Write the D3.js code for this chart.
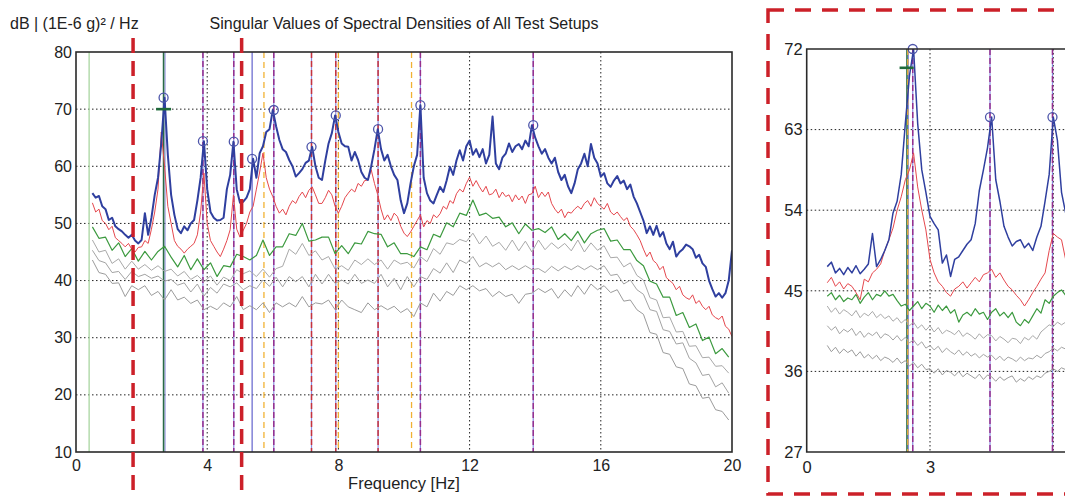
<!DOCTYPE html>
<html>
<head>
<meta charset="utf-8">
<script src="https://cdn.jsdelivr.net/npm/d3@7"></script>
<style>
  body { margin: 0; background: #fff; }
  svg { display: block; }
  text { font-family: "Liberation Sans", Arial, sans-serif; fill: #222; }
</style>
</head>
<body>
<svg id="chart" width="1065" height="496"></svg>
<script>
// ---- main chart: singular values, sampled from 0.5 Hz ----
const mainStart = 0.5;
const fineStep = 0.1;    // first two singular values
const coarseStep = 0.2;  // the lower ones

const sv1 = [
  55.3, 54.5, 54.8, 53, 52.5, 50.6, 51, 49.5, 49, 48.6,
  48, 47.5, 48, 47, 46.5, 47.1, 51.8, 48, 51, 55,
  58, 64, 72, 62, 55, 51.5, 49, 48.3, 49.5, 48.8,
  50, 50.6, 54, 58, 64.4, 56, 52, 51, 50.5, 50.6,
  51, 56, 58.5, 64.3, 56, 53.6, 53.8, 54.5, 56, 61.3,
  58, 62.3, 63.5, 66, 66.5, 69.85, 67, 64.6, 63, 62.5,
  61.1, 60, 58.2, 58.8, 59.5, 60.6, 61, 63.4, 60, 58,
  57.6, 61, 64, 65.8, 68.9, 66, 64, 63.5, 63.4, 61,
  62.5, 61.1, 59, 58, 57.6, 60, 63, 66.5, 63, 61,
  62, 60, 58.5, 57.6, 54, 51.8, 53.5, 57, 60, 62,
  70.7, 58, 55.3, 54, 53.5, 55, 56.4, 55.5, 57.5, 59.9,
  58.5, 61, 62.8, 61, 63.5, 64.5, 62, 63, 61.6, 63,
  60.5, 62, 68.7, 60.5, 59.5, 61.5, 62.2, 64, 62.5, 63.5,
  63.9, 63, 64.5, 63.5, 67.2, 65, 63.5, 62.2, 63, 61.5,
  60.5, 61.5, 59, 57.6, 58.5, 56.5, 55.3, 57, 59.5, 60.5,
  62.2, 60, 63.9, 61.5, 60.5, 58.2, 58.8, 57, 56.4, 57.5,
  58.3, 57, 57.5, 56, 56.8, 54.7, 53.5, 52, 50.5, 48.3,
  49.5, 48, 49.6, 47.7, 48.5, 46.5, 45.5, 46.8, 44.2, 45,
  45.5, 46.3, 46, 45.5, 44, 44.5, 43, 42.4, 40, 38.5,
  37.2, 37.8, 37, 37.8, 40, 45.3
];

const sv2 = [
  53.6, 52, 52.5, 50.5, 50, 48.9, 49.5, 47.5, 47, 46.5,
  45.9, 46.5, 45.5, 45, 45.8, 45.9, 47, 46.5, 49, 52,
  56, 66, 60, 53, 50, 47, 46, 45.5, 44.8, 45.5,
  46, 46.5, 48, 52, 58.8, 50, 47, 46, 45, 44.2,
  45.5, 47, 48.9, 55, 49, 47.6, 48.8, 50, 52, 53,
  56, 59, 62.3, 58, 56, 54.7, 53, 51.8, 52.5, 51.5,
  53, 54, 53.5, 54.7, 55.5, 54.5, 55.8, 56.4, 55, 53.5,
  53.5, 54.5, 55.8, 55, 53, 51.8, 53, 54.5, 55.3, 56,
  55.5, 57, 56.5, 57.5, 57.6, 59.4, 57, 55, 52.5, 50.6,
  51.5, 50.5, 51.8, 51.2, 49.5, 48.3, 47.7, 48.5, 49.5, 50.5,
  51.5, 49.4, 50.5, 50, 51.5, 51, 51.7, 53, 52.5, 54,
  53.5, 55.2, 56, 55.5, 57, 58.1, 56.5, 57.5, 56.4, 55.5,
  56.5, 55, 55.2, 56, 54.5, 55.5, 54.7, 55, 53.8, 55,
  54.1, 54.8, 53.5, 55, 55.2, 56.5, 54.5, 55.5, 54.7, 55.5,
  53.5, 52.5, 51.8, 52.5, 51, 52, 51.8, 52.5, 53, 52.5,
  53.5, 54, 53, 54.5, 53.5, 53, 52.5, 53.5, 52, 51.5,
  52, 51.2, 50.5, 51, 49.5, 48.9, 48, 47, 45.5, 44.2,
  45, 43.5, 43, 41.9, 42.5, 40.5, 40, 39.5, 38.4, 39,
  37.5, 37, 36.7, 37.5, 36, 36.5, 35.5, 34.9, 35.5, 34,
  33.5, 33.2, 33.8, 32, 31.5, 30.2
];

const sv3 = [
  49.4, 47.4, 47.6, 45.3, 46.6, 44.2, 45.6, 43.4, 45.1, 43.6,
  45.1, 46.0, 44.1, 42.4, 44.4, 41.9, 43.8, 41.9, 43.1, 40.7,
  42.6, 42.4, 44.6, 44.2, 43.6, 44.4, 47.1, 44.4, 45.9, 45.9,
  48.2, 47.9, 50.0, 46.9, 47.1, 47.6, 47.6, 44.7, 46.1, 44.7,
  46.6, 46.4, 48.6, 48.2, 48.1, 45.9, 46.6, 44.7, 44.7, 44.2,
  45.9, 45.4, 48.1, 47.6, 50.1, 49.4, 51.8, 51.4, 54.1, 51.4,
  51.8, 50.9, 51.1, 49.4, 50.1, 48.2, 49.9, 48.8, 49.1, 48.4,
  49.4, 47.2, 48.2, 47.0, 48.6, 46.6, 48.2, 48.8, 49.1, 46.9,
  47.1, 45.4, 45.4, 43.5, 42.6, 39.9, 39.4, 37.1, 37.1, 33.9,
  34.4, 31.8, 32.4, 29.5, 30.1, 27.2, 28.1, 26.6
];

const sv4 = [
  47.1, 45.0, 45.3, 43.0, 43.8, 42.0, 43.4, 42.0, 42.8, 41.8,
  42.6, 41.6, 42.0, 40.8, 41.6, 40.2, 40.9, 39.8, 40.8, 39.2,
  40.6, 40.0, 41.9, 41.2, 41.7, 40.7, 42.0, 40.6, 42.1, 42.5,
  45.5, 44.6, 46.5, 44.4, 45.2, 43.6, 44.2, 42.0, 42.6, 41.8,
  43.6, 42.8, 43.8, 42.8, 43.6, 42.0, 43.6, 42.9, 43.2, 42.2,
  44.2, 43.3, 45.6, 44.6, 46.6, 46.3, 47.2, 46.8, 48.3, 46.4,
  47.8, 46.0, 46.7, 45.3, 47.1, 45.2, 46.9, 45.0, 47.1, 45.4,
  46.6, 45.6, 46.5, 45.2, 47.1, 45.0, 46.6, 45.3, 46.1, 44.0,
  44.1, 42.4, 43.1, 40.9, 40.1, 37.0, 36.6, 33.5, 33.6, 31.0,
  31.1, 28.5, 28.6, 26.5, 26.6, 25.0, 25.1, 23.8
];

const sv5 = [
  45.3, 43.5, 43.1, 41.4, 41.6, 40.2, 41.6, 40.7, 41.1, 40.4,
  40.8, 39.9, 40.2, 39.2, 39.6, 38.0, 39.4, 37.3, 38.8, 37.8,
  39.4, 38.9, 39.6, 38.4, 39.1, 38.6, 40.1, 39.0, 40.6, 38.9,
  40.7, 39.8, 40.7, 38.9, 41.1, 39.4, 41.1, 39.5, 40.1, 39.4,
  41.1, 39.5, 40.1, 39.5, 41.1, 38.9, 40.4, 38.4, 40.7, 38.9,
  40.7, 40.2, 42.1, 41.3, 43.1, 41.4, 43.6, 43.0, 44.2, 42.4,
  43.1, 42.4, 43.1, 41.9, 42.6, 41.9, 42.6, 41.9, 42.1, 41.4,
  42.5, 41.7, 42.5, 41.9, 42.6, 41.9, 42.6, 41.9, 42.6, 40.9,
  41.1, 39.4, 40.1, 38.4, 37.6, 34.9, 34.6, 31.4, 31.1, 28.9,
  29.1, 26.4, 25.6, 23.4, 23.6, 21.4, 22.1, 20.3
];

const sv6 = [
  43.6, 41.4, 41.1, 39.5, 39.6, 37.2, 39.1, 38.4, 39.1, 37.4,
  38.1, 36.6, 38.4, 36.6, 37.1, 36.0, 36.6, 34.9, 35.5, 34.9,
  36.1, 35.4, 37.2, 34.9, 35.6, 34.9, 36.1, 34.4, 36.1, 35.4,
  36.1, 35.4, 37.2, 35.4, 36.1, 35.9, 36.6, 34.9, 36.6, 35.4,
  34.9, 34.4, 36.1, 34.9, 35.6, 34.9, 35.5, 34.4, 35.1, 33.7,
  36.1, 35.4, 37.8, 36.4, 38.1, 37.4, 39.1, 38.4, 39.1, 38.2,
  38.6, 37.2, 38.1, 37.2, 37.6, 36.0, 37.6, 37.8, 38.6, 37.9,
  38.6, 36.9, 38.4, 37.2, 39.1, 37.6, 39.4, 38.4, 39.1, 37.9,
  38.4, 36.4, 36.6, 34.9, 34.1, 30.9, 30.6, 27.4, 27.1, 24.9,
  24.6, 21.9, 21.6, 19.4, 19.6, 17.4, 17.1, 15.6
];

// picked modes: frequency [Hz], which setup marked it, peak level [dB]
const modeFreqs = [0.4, 2.67, 3.87, 4.81, 5.37, 5.73, 6.03, 7.18, 7.92, 8.0, 9.21, 10.23, 10.5, 13.94];
const modeKinds = ['base', 'green', 'purple', 'purple', 'blue', 'yellow', 'purple', 'red', 'red', 'yellow', 'red', 'yellow', 'purple', 'purple'];
const peakFreqs = [2.67, 3.87, 4.81, 5.37, 6.03, 7.18, 7.92, 9.21, 10.5, 13.94];
const peakLevels = [72, 64.4, 64.3, 61.3, 69.85, 63.4, 68.9, 66.5, 70.7, 67.2];
const crossFreq = 2.67, crossLevel = 70;
const markedBand = [1.74, 5.05];   // band highlighted by the thick red dashes

const mainYTicks = [10, 20, 30, 40, 50, 60, 70, 80];
const mainXTicks = [0, 4, 8, 12, 16, 20];

// ---- zoomed view (other setup), 0.1 Hz from 0.5 Hz ----
const insetStart = 0.5, insetStep = 0.1;
const in1 = [
  47.7, 48.2, 47, 47.5, 46.8, 47.6, 47, 47.8, 46.9, 47.4,
  48, 51.4, 47.7, 48.5, 49.5, 50.7, 53.7, 55, 58, 63.7,
  69, 72, 63.7, 58.5, 56, 53.3, 52.5, 51.8, 48.1, 49,
  46.6, 48.5, 48.8, 49.5, 50.2, 50.7, 52.5, 56.2, 58.5, 61,
  64.4, 57.4, 55, 52.2, 51, 50, 50.5, 50.7, 49.8, 50.3,
  49.5, 51, 52.2, 55, 58, 64.4, 61.8, 56, 53.7, 53
];
const in2 = [
  45.9, 46.5, 45.5, 46, 45.2, 45.8, 45.5, 44.8, 44, 46.3,
  46, 47, 47.4, 48, 49.5, 50.7, 52, 54, 55.5, 57.4,
  58.5, 60.4, 56.6, 54, 51.8, 48.5, 47, 46, 45.5, 44.8,
  44.4, 45.2, 45.5, 46, 45.3, 45.9, 46.5, 46, 46.8, 47,
  47.4, 46.5, 47, 46.2, 45.5, 45.1, 44.5, 44, 43.3, 44,
  44.8, 45.5, 46.3, 47, 49.5, 51.4, 51, 50.7, 48.5, 48
];
const in3 = [
  44.4, 44.8, 44, 44.5, 43.8, 44.2, 44, 44.6, 43.6, 44.3,
  44.8, 44, 44.6, 44.4, 45, 44.4, 44.6, 43.9, 43.3, 43.5,
  42.8, 43.3, 43.8, 43, 43.6, 43.3, 42.6, 43.4, 42.8, 43.3,
  42.5, 42.9, 41.5, 42.3, 42.6, 42.2, 43, 42.4, 42.6, 41.8,
  42.6, 43, 42.2, 42.6, 42, 42.6, 41.5, 41.1, 41.8, 41.4,
  42.2, 43, 42.5, 44, 43.6, 44.4, 44.8, 45.1, 44.5, 45
];
const in4 = [
  43.3, 42.6, 43.1, 42.4, 42.9, 42.6, 42.2, 42.8, 42, 42.5,
  42.2, 42.7, 42, 42.4, 41.9, 42.2, 41.6, 42, 41.4, 41.8,
  41.1, 41.5, 40.8, 41.2, 40.6, 41.1, 40.4, 40.9, 40.2, 40.6,
  40.4, 40.1, 40.6, 39.9, 40.3, 40, 39.6, 40.2, 39.7, 40.1,
  40, 39.4, 39.9, 39.6, 39.2, 39.7, 39.6, 39.1, 39.8, 39.5,
  40, 39.6, 40.4, 40.8, 41.2, 41, 41.5, 41.2, 41.5, 41.8
];
const in5 = [
  41.1, 40.6, 41, 40.2, 40.7, 40.4, 40.8, 40, 40.5, 39.8,
  40.3, 40, 40.4, 39.7, 40.2, 40, 39.5, 40, 39.4, 39.8,
  39.2, 39.5, 38.9, 39.3, 38.6, 38.9, 38.4, 38.8, 38.1, 38.6,
  38.2, 37.9, 38.4, 37.8, 38.2, 37.7, 38, 37.5, 37.9, 37.6,
  37.8, 37.3, 37.7, 37.2, 37.6, 37.4, 37.1, 37.6, 37.2, 37.5,
  37.4, 37.8, 37.5, 38, 38.2, 38.6, 38.3, 38.7, 38.5, 38.8
];
const in6 = [
  38.9, 38.2, 38.7, 38, 38.5, 38.1, 38.4, 37.7, 38.2, 37.5,
  37.9, 37.4, 37.8, 37.2, 37.6, 37.4, 37, 37.5, 36.9, 37.2,
  36.6, 37, 36.4, 36.8, 36.2, 36.3, 35.8, 36.3, 35.6, 36.1,
  35.9, 35.5, 36, 35.4, 35.8, 35.5, 35.2, 35.7, 35.1, 35.6,
  35.4, 34.9, 35.4, 35, 35.3, 35.5, 34.8, 35.2, 34.9, 35.4,
  35.1, 35.5, 35.3, 35.8, 36, 36.3, 36, 36.4, 36.2, 36.5
];
const insetModeFreqs = [2.44, 2.46, 2.58, 4.46, 5.98];
const insetModeKinds = ['green', 'yellow', 'purple', 'purple', 'purple'];
const insetPeakFreqs = [2.58, 4.46, 5.98];
const insetPeakLevels = [72, 64.4, 64.4];
const insetCrossFreq = 2.43, insetCrossLevel = 69.9;
const insetYTicks = [27, 36, 45, 54, 63, 72];
const insetXTicks = [0, 3];

// ---- drawing ----
const svg = d3.select('#chart');
svg.append('rect').attr('width', 1065).attr('height', 496).attr('fill', '#fff');

const W = { l: 76, r: 732, t: 52, b: 452 };
const xMain = d3.scaleLinear().domain([0, 20]).range([W.l, W.r]);
const yMain = d3.scaleLinear().domain([10, 80]).range([W.b, W.t]);

const I = { l: 806.7, t: 49, b: 452 };
const xIn = d3.scaleLinear().domain([0, 6.5]).range([I.l, I.l + 6.5 * 41.1]);
const yIn = d3.scaleLinear().domain([27, 72]).range([I.b, I.t]);

const defs = svg.append('defs');
defs.append('clipPath').attr('id', 'clipMain').append('rect')
  .attr('x', W.l).attr('y', W.t).attr('width', W.r - W.l).attr('height', W.b - W.t);
defs.append('clipPath').attr('id', 'clipIn').append('rect')
  .attr('x', I.l).attr('y', I.t).attr('width', 1065 - I.l).attr('height', I.b - I.t);

const curveStyles = [
  { color: '#9b9b9b', width: 1 },
  { color: '#a3a3a3', width: 1 },
  { color: '#a9a9a9', width: 1 },
  { color: '#3c9a3f', width: 1.2 },
  { color: '#e5474d', width: 1 },
  { color: '#2f3f9f', width: 2 }
];

function lineStyles(kind) {
  // each mode line = thin lavender base + coloured marker line on top
  if (kind === 'base') return [{ c: '#a9d6a0', w: 1.3 }];
  if (kind === 'yellow') return [{ c: '#f1b233', w: 1.3, dash: '6,4' }];
  if (kind === 'blue') return [{ c: '#6e6ed0', w: 1.3 }];
  if (kind === 'green') return [{ c: '#8c8ce0', w: 1, dx: 1.5 }, { c: '#2a6a45', w: 1.6 }];
  if (kind === 'red') return [{ c: '#8c8ce0', w: 1.2 }, { c: '#c6323d', w: 1.5, dash: '6,3' }];
  return [{ c: '#8c8ce0', w: 1.2 }, { c: '#962f8e', w: 1.5, dash: '6,3' }];
}

function drawPanel(g, x, y, box, series, step, start, modes, kinds, peaksF, peaksV, cross, crossW, clipId, blueW) {
  const plot = g.append('g').attr('clip-path', `url(#${clipId})`);

  // dotted grid
  plot.append('g').selectAll('line').data(box.gridY).join('line')
    .attr('x1', box.l).attr('x2', box.r).attr('y1', d => y(d)).attr('y2', d => y(d))
    .attr('stroke', '#222').attr('stroke-width', 1).attr('stroke-dasharray', '1.5,2.5');
  plot.append('g').selectAll('line').data(box.gridX).join('line')
    .attr('x1', d => x(d)).attr('x2', d => x(d)).attr('y1', box.t).attr('y2', box.b)
    .attr('stroke', '#222').attr('stroke-width', 1).attr('stroke-dasharray', '1.5,2.5');

  // picked-mode lines
  modes.forEach((f, i) => {
    lineStyles(kinds[i]).forEach(s => {
      plot.append('line')
        .attr('x1', x(f) + (s.dx || 0)).attr('x2', x(f) + (s.dx || 0))
        .attr('y1', box.t).attr('y2', box.b)
        .attr('stroke', s.c).attr('stroke-width', s.w)
        .attr('stroke-dasharray', s.dash || null);
    });
  });

  // singular value curves, lowest first
  const line = d3.line().x(d => x(d.f)).y(d => y(d.v));
  series.forEach((vals, k) => {
    const st = step[k];
    const pts = vals.map((v, i) => ({ f: start + i * st, v: v }));
    const cs = curveStyles[k];
    plot.append('path')
      .attr('d', line(pts))
      .attr('fill', 'none')
      .attr('stroke', cs.color)
      .attr('stroke-width', k === series.length - 1 ? blueW : cs.width)
      .attr('stroke-linejoin', 'round');
  });

  // peak circles
  g.append('g').selectAll('circle').data(peaksF).join('circle')
    .attr('cx', d => x(d)).attr('cy', (d, i) => y(peaksV[i]))
    .attr('r', 4.5).attr('fill', 'none')
    .attr('stroke', '#4d55aa').attr('stroke-width', 1.3);

  // cross marker
  g.append('line')
    .attr('x1', x(cross[0]) - crossW / 2).attr('x2', x(cross[0]) + crossW / 2)
    .attr('y1', y(cross[1])).attr('y2', y(cross[1]))
    .attr('stroke', '#1f6a3a').attr('stroke-width', 2.6);
}

function styleAxis(a, size, color) {
  a.select('.domain').remove();
  a.selectAll('text').attr('font-size', size)
    .attr('font-family', '"Liberation Sans", Arial, sans-serif').attr('fill', color);
}

// main panel
const gMain = svg.append('g');
drawPanel(gMain, xMain, yMain,
  { l: W.l, r: W.r, t: W.t, b: W.b, gridY: [20, 30, 40, 50, 60, 70], gridX: [4, 8, 12, 16] },
  [sv6, sv5, sv4, sv3, sv2, sv1],
  [coarseStep, coarseStep, coarseStep, coarseStep, fineStep, fineStep], mainStart,
  modeFreqs, modeKinds, peakFreqs, peakLevels, [crossFreq, crossLevel], 15, 'clipMain', 2);

gMain.append('rect')
  .attr('x', W.l).attr('y', W.t).attr('width', W.r - W.l).attr('height', W.b - W.t)
  .attr('fill', 'none').attr('stroke', '#2a2a2a').attr('stroke-width', 1.6);

styleAxis(gMain.append('g').attr('transform', `translate(${W.l},0)`)
  .call(d3.axisLeft(yMain).tickValues(mainYTicks).tickSize(0).tickPadding(4)), 16, '#222');
styleAxis(gMain.append('g').attr('transform', `translate(0,${W.b})`)
  .call(d3.axisBottom(xMain).tickValues(mainXTicks).tickSize(0).tickPadding(8)), 16, '#222');

svg.append('text').attr('x', 10).attr('y', 29).attr('font-size', 16)
  .text('dB | (1E-6 g)² / Hz');
svg.append('text').attr('x', 404).attr('y', 29).attr('font-size', 16)
  .attr('text-anchor', 'middle')
  .text('Singular Values of Spectral Densities of All Test Setups');
svg.append('text').attr('x', 404).attr('y', 489).attr('font-size', 16.5)
  .attr('text-anchor', 'middle')
  .text('Frequency [Hz]');

// zoomed panel
const gIn = svg.append('g');
drawPanel(gIn, xIn, yIn,
  { l: I.l, r: 1065, t: I.t, b: I.b, gridY: [36, 45, 54, 63], gridX: [3, 6] },
  [in6, in5, in4, in3, in2, in1],
  [insetStep, insetStep, insetStep, insetStep, insetStep, insetStep], insetStart,
  insetModeFreqs, insetModeKinds, insetPeakFreqs, insetPeakLevels,
  [insetCrossFreq, insetCrossLevel], 14, 'clipIn', 1.5);

gIn.append('path')
  .attr('d', `M1065,${I.t}H${I.l}V${I.b}H1065`)
  .attr('fill', 'none').attr('stroke', '#2a2a2a').attr('stroke-width', 1.6);

styleAxis(gIn.append('g').attr('transform', `translate(${I.l},0)`)
  .call(d3.axisLeft(yIn).tickValues(insetYTicks).tickSize(0).tickPadding(4)), 16.5, '#2b2b3a');
styleAxis(gIn.append('g').attr('transform', `translate(0,${I.b})`)
  .call(d3.axisBottom(xIn).tickValues(insetXTicks).tickFormat(d3.format('d')).tickSize(0).tickPadding(9)), 16.5, '#2b2b3a');

// annotations: thick red dashes
svg.append('g').selectAll('line').data(markedBand).join('line')
  .attr('x1', d => xMain(d)).attr('x2', d => xMain(d))
  .attr('y1', 38).attr('y2', 496)
  .attr('stroke', '#cc2029').attr('stroke-width', 3.5).attr('stroke-dasharray', '15,8');

svg.append('rect')
  .attr('x', 768).attr('y', 10).attr('width', 400).attr('height', 484)
  .attr('fill', 'none').attr('stroke', '#cc2029').attr('stroke-width', 3.5)
  .attr('stroke-dasharray', '16,11');
</script>
</body>
</html>
